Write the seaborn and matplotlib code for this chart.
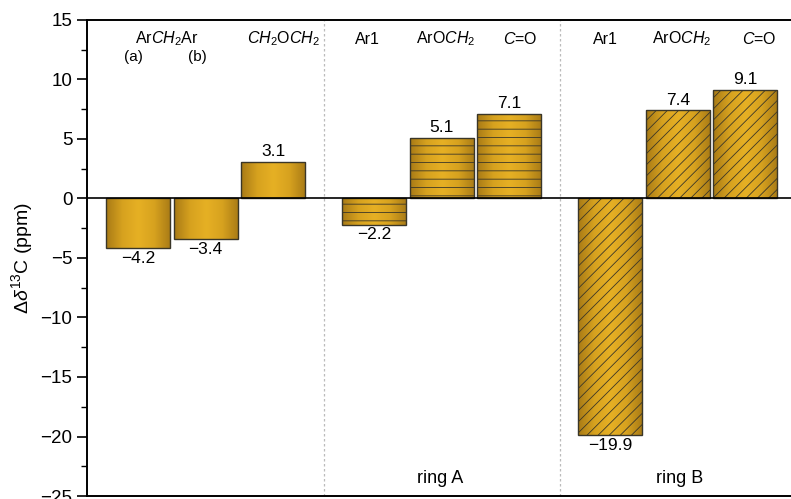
import numpy as np
import pandas as pd
import seaborn as sns
import matplotlib.pyplot as plt
from matplotlib.colors import LinearSegmentedColormap
from matplotlib.ticker import MultipleLocator

# data
positions = [0, 1, 2, 3.5, 4.5, 5.5, 7, 8, 9]
shifts = [-4.2, -3.4, 3.1, -2.2, 5.1, 7.1, -19.9, 7.4, 9.1]
groups = ['bridge', 'bridge', 'bridge', 'ring A', 'ring A', 'ring A', 'ring B', 'ring B', 'ring B']
top_labels = [r'Ar$\mathit{CH}_\mathrm{2}$Ar', r'$\mathit{CH}_\mathrm{2}$O$\mathit{CH}_\mathrm{2}$',
              'Ar1', r'ArO$\mathit{CH}_\mathrm{2}$', r'$\mathit{C}$=O',
              'Ar1', r'ArO$\mathit{CH}_\mathrm{2}$', r'$\mathit{C}$=O']
sub_labels = ['(a)', '(b)']
ring_labels = ['ring A', 'ring B']

df = pd.DataFrame({'pos': positions, 'shift': shifts, 'group': groups})

sns.set_style('ticks')
plt.rcParams['font.family'] = ['Liberation Sans', 'DejaVu Sans']
plt.rcParams['mathtext.fontset'] = 'custom'
plt.rcParams['mathtext.rm'] = 'Liberation Sans'
plt.rcParams['mathtext.it'] = 'Liberation Sans:italic'
plt.rcParams['hatch.linewidth'] = 0.6
plt.rcParams['text.color'] = 'black'
plt.rcParams['axes.labelcolor'] = 'black'
plt.rcParams['ytick.color'] = 'black'
plt.rcParams['axes.edgecolor'] = 'black'

fig = plt.figure(figsize=(7.91, 4.99), dpi=100)
ax = fig.add_axes([0.110, 0.006, 0.909, 0.954])

sns.barplot(data=df, x='pos', y='shift', native_scale=True, width=0.95,
            color='#d9a31e', edgecolor='#3a3628', linewidth=1.0, ax=ax, zorder=3)

gold = LinearSegmentedColormap.from_list('gold', ['#a97b16', '#d7a21f', '#e6b024', '#d7a21f', '#a97b16'])
grad = np.linspace(0, 1, 64).reshape(1, -1)
hatches = {'bridge': '', 'ring A': '--', 'ring B': '///'}
patches = sorted(ax.patches, key=lambda p: p.get_x())
for p, g in zip(patches, df['group']):
    x0, y0, w, h = p.get_x(), p.get_y(), p.get_width(), p.get_height()
    im = ax.imshow(grad, cmap=gold, aspect='auto', extent=(x0, x0 + w, y0, y0 + h),
                   zorder=2, interpolation='bicubic')
    im.set_clip_path(p)
    p.set_facecolor('none')
    p.set_hatch(hatches[g])

labels = [f'{v:.1f}'.replace('-', '\u2212') for v in shifts]
ax.bar_label(ax.containers[0], labels=labels, padding=2, fontsize=12.5)

ax.axhline(0, color='black', lw=1.2, zorder=4)
for xs in (2.75, 6.25):
    ax.axvline(xs, color='#bbbbbb', lw=0.9, ls=(0, (2, 2)), zorder=1)

# category annotations
top_x = [0.42, 2.16, 3.39, 4.55, 5.67, 6.92, 8.06, 9.2]
for x, t in zip(top_x, top_labels):
    ax.text(x, 13.4, t, ha='center', va='center', fontsize=11.5)
for x, t in zip([-0.07, 0.87], sub_labels):
    ax.text(x, 11.9, t, ha='center', va='center', fontsize=11)
for x, t in zip([4.47, 8.03], ring_labels):
    ax.text(x, -23.55, t, ha='center', va='center', fontsize=13)

ax.set_xlim(-0.76, 9.9)
ax.set_ylim(-25, 15)
ax.yaxis.set_major_locator(MultipleLocator(5))
ax.yaxis.set_minor_locator(MultipleLocator(2.5))
ax.set_xticks([])
ax.set_xlabel('')
ax.set_ylabel(r'$\Delta\mathit{\delta}^{13}$C (ppm)', fontsize=14, labelpad=4)
ax.tick_params(axis='y', which='major', length=7, width=1.2, labelsize=13.5)
ax.tick_params(axis='y', which='minor', length=4, width=1.0)
for s in ('left', 'bottom', 'top'):
    ax.spines[s].set_linewidth(1.4)
ax.spines['right'].set_visible(False)

fig.savefig('out.png', dpi=100)
